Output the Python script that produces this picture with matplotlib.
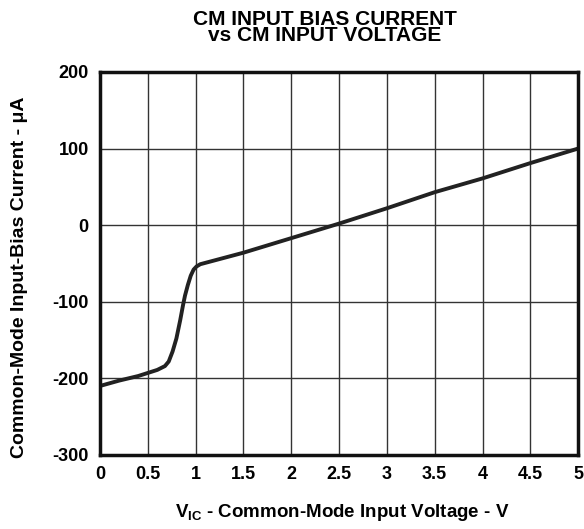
import matplotlib
matplotlib.use('Agg')
import matplotlib.pyplot as plt

plt.rcParams['font.family'] = ['Liberation Sans', 'DejaVu Sans']
plt.rcParams['font.weight'] = 'bold'
plt.rcParams['mathtext.fontset'] = 'custom'
plt.rcParams['mathtext.rm'] = 'Liberation Sans:bold'
plt.rcParams['mathtext.bf'] = 'Liberation Sans:bold'
plt.rcParams['axes.unicode_minus'] = False

# Data
vic = [0.0, 0.2, 0.4, 0.5, 0.6, 0.68, 0.72, 0.76, 0.80, 0.84, 0.87, 0.89,
       0.92, 0.95, 0.98, 1.01, 1.05, 1.5, 2.0, 2.5, 3.0, 3.5, 4.0, 4.5, 5.0]
ibias = [-210, -203, -197, -193, -189, -184, -178, -165, -148, -124, -104, -92,
         -78, -66, -58, -54, -51, -36, -17, 2, 22, 43, 61, 81, 100]

x_ticks = [0, 0.5, 1, 1.5, 2, 2.5, 3, 3.5, 4, 4.5, 5]
x_labels = ['0', '0.5', '1', '1.5', '2', '2.5', '3', '3.5', '4', '4.5', '5']
y_ticks = [-300, -200, -100, 0, 100, 200]

fig = plt.figure(figsize=(5.84, 5.29), dpi=100)
ax = fig.add_axes([0.171, 0.140, 0.819, 0.724])

ax.plot(vic, ibias, color='#222222', linewidth=2.8, solid_capstyle='butt')

ax.set_xlim(0, 5)
ax.set_ylim(-300, 200)
ax.set_xticks(x_ticks)
ax.set_xticklabels(x_labels)
ax.set_yticks(y_ticks)
ax.grid(True, color='#333333', linewidth=1.0)
ax.tick_params(length=0, labelsize=13, pad=8)
for lbl in ax.get_xticklabels() + ax.get_yticklabels():
    lbl.set_fontweight('bold')
for sp in ax.spines.values():
    sp.set_linewidth(2.5)
    sp.set_color('#111111')

fig.text(325 / 584, 1 - 27.5 / 529, 'CM INPUT BIAS CURRENT\nvs CM INPUT VOLTAGE',
         ha='center', va='center', fontsize=15, fontweight='bold', linespacing=0.85)
fig.text(342 / 584, 1 - 517 / 529, r'$\mathbf{V_{IC}}$ - Common-Mode Input Voltage - V',
         ha='center', va='baseline', fontsize=13.5, fontweight='bold')
fig.text(20 / 584, 1 - 277 / 529, 'Common-Mode Input-Bias Current - μA',
         ha='center', va='center', rotation=90, fontsize=14, fontweight='bold')

fig.savefig('out.png', dpi=100)
